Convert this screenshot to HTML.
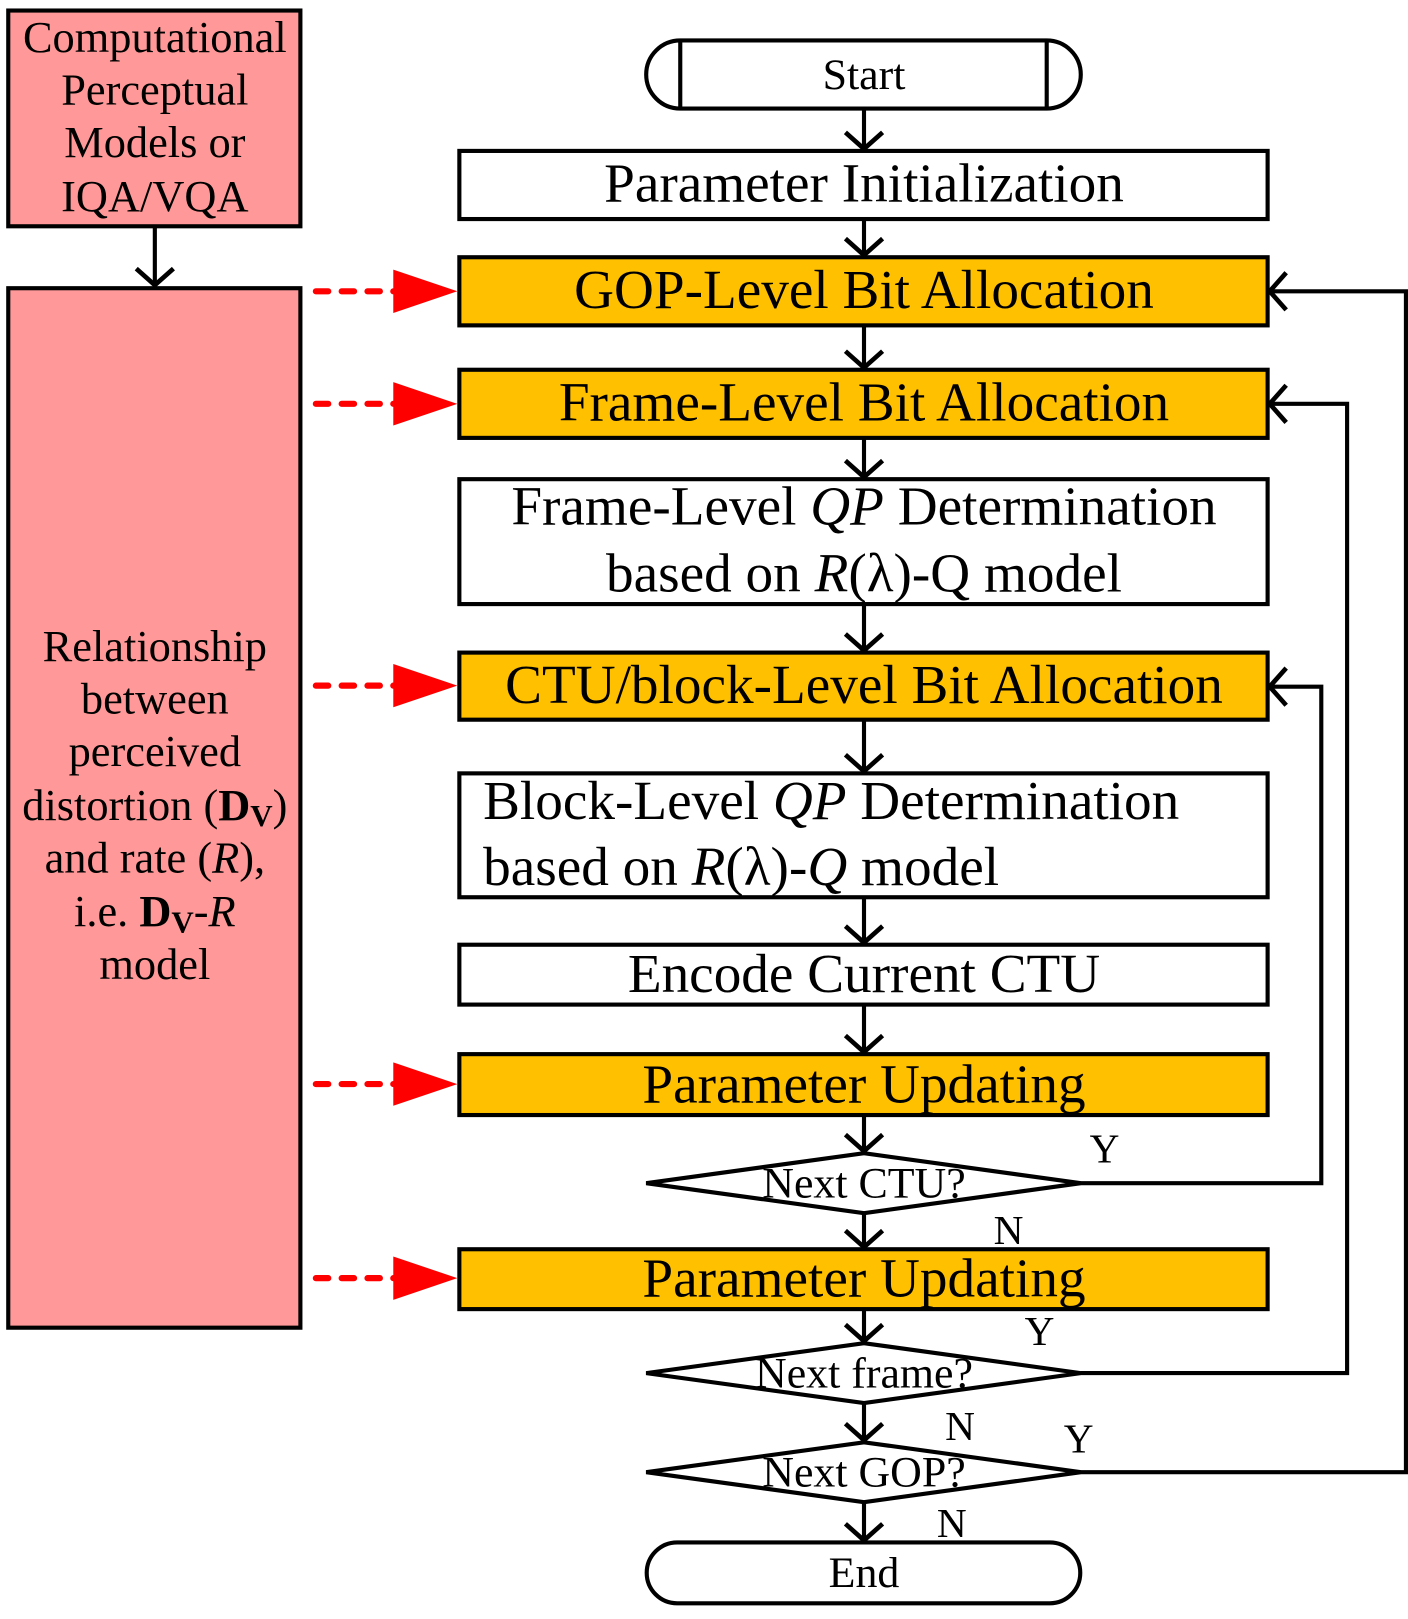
<!DOCTYPE html>
<html><head><meta charset="utf-8"><style>html,body{margin:0;padding:0;background:#fff}svg{display:block}</style></head>
<body>
<svg width="1408" height="1619" viewBox="0 0 1364 1568" xmlns="http://www.w3.org/2000/svg" font-family="'Liberation Serif', serif">
<defs>
<marker id="v" markerWidth="40" markerHeight="40" refX="20" refY="20" orient="auto" markerUnits="userSpaceOnUse" viewBox="0 0 40 40">
<polyline points="4,2 20,20 4,38" fill="none" stroke="#000" stroke-width="4.5"/>
</marker>
</defs>
<g stroke="#000" stroke-width="4">
<rect x="8" y="10" width="283" height="209" fill="#FF9999"/>
<rect x="8" y="279" width="283" height="1007" fill="#FF9999"/>
<path d="M659,39 H1014 A33,33 0 0 1 1014,105 H659 A33,33 0 0 1 659,39 Z" fill="#fff"/>
<line x1="659" y1="39" x2="659" y2="105"/><line x1="1014" y1="39" x2="1014" y2="105"/>
<rect x="445" y="146" width="783" height="66" fill="#fff"/>
<rect x="445" y="249" width="783" height="66" fill="#FFC000"/>
<rect x="445" y="358" width="783" height="66" fill="#FFC000"/>
<rect x="445" y="464" width="783" height="121" fill="#fff"/>
<rect x="445" y="632" width="783" height="65" fill="#FFC000"/>
<rect x="445" y="749" width="783" height="120" fill="#fff"/>
<rect x="445" y="915" width="783" height="58" fill="#fff"/>
<rect x="445" y="1021" width="783" height="59" fill="#FFC000"/>
<rect x="445" y="1210" width="783" height="58" fill="#FFC000"/>
<polygon points="626,1146 837,1117 1047,1146 837,1175" fill="#fff"/>
<polygon points="626,1330 837,1301 1047,1330 837,1359" fill="#fff"/>
<polygon points="626,1426 837,1397 1047,1426 837,1455" fill="#fff"/>
<path d="M656,1494 H1017 A29.5,29.5 0 0 1 1017,1553 H656 A29.5,29.5 0 0 1 656,1494 Z" fill="#fff"/>
<g fill="none" marker-end="url(#v)">
<line x1="150" y1="219" x2="150" y2="276"/>
<line x1="837" y1="105" x2="837" y2="144"/>
<line x1="837" y1="212" x2="837" y2="247"/>
<line x1="837" y1="315" x2="837" y2="356"/>
<line x1="837" y1="424" x2="837" y2="462"/>
<line x1="837" y1="585" x2="837" y2="630"/>
<line x1="837" y1="697" x2="837" y2="747"/>
<line x1="837" y1="869" x2="837" y2="913"/>
<line x1="837" y1="973" x2="837" y2="1019"/>
<line x1="837" y1="1080" x2="837" y2="1115"/>
<line x1="837" y1="1175" x2="837" y2="1208"/>
<line x1="837" y1="1268" x2="837" y2="1299"/>
<line x1="837" y1="1359" x2="837" y2="1395"/>
<line x1="837" y1="1455" x2="837" y2="1492"/>
<polyline points="1047,1146 1280,1146 1280,665 1230,665"/>
<polyline points="1047,1330 1305,1330 1305,391 1230,391"/>
<polyline points="1047,1426 1362,1426 1362,282 1230,282"/>
</g>
</g>
<g stroke="#f00" stroke-width="6" stroke-linecap="round" stroke-dasharray="12,13">
<line x1="306" y1="282" x2="385" y2="282"/>
<line x1="306" y1="391" x2="385" y2="391"/>
<line x1="306" y1="664" x2="385" y2="664"/>
<line x1="306" y1="1050" x2="385" y2="1050"/>
<line x1="306" y1="1238" x2="385" y2="1238"/>
</g>
<g fill="#f00">
<polygon points="381,261 443,282 381,303"/>
<polygon points="381,370 443,391 381,412"/>
<polygon points="381,643 443,664 381,685"/>
<polygon points="381,1029 443,1050 381,1071"/>
<polygon points="381,1217 443,1238 381,1259"/>
</g>
<g font-size="43" text-anchor="middle" fill="#000">
<text x="150" y="50">Computational</text>
<text x="150" y="101">Perceptual</text>
<text x="150" y="152">Models or</text>
<text x="150" y="204">IQA/VQA</text>
<text x="150" y="640">Relationship</text>
<text x="150" y="691">between</text>
<text x="150" y="742">perceived</text>
<text x="150" y="794">distortion (<tspan font-weight="bold">D</tspan><tspan font-weight="bold" font-size="30" dy="6">V</tspan><tspan dy="-6">)</tspan></text>
<text x="150" y="845">and rate (<tspan font-style="italic">R</tspan>),</text>
<text x="150" y="897">i.e. <tspan font-weight="bold">D</tspan><tspan font-weight="bold" font-size="30" dy="6">V</tspan><tspan dy="-6">-</tspan><tspan font-style="italic">R</tspan></text>
<text x="150" y="948">model</text>
</g>
<g font-size="53.5" text-anchor="middle" fill="#000">
<text x="837" y="86" font-size="42.5">Start</text>
<text x="837" y="195">Parameter Initialization</text>
<text x="837" y="298">GOP-Level Bit Allocation</text>
<text x="837" y="407">Frame-Level Bit Allocation</text>
<text x="837" y="508">Frame-Level <tspan font-style="italic">QP</tspan> Determination</text>
<text x="837" y="573">based on <tspan font-style="italic">R</tspan>(λ)-Q model</text>
<text x="837" y="681">CTU/block-Level Bit Allocation</text>
<text x="468" y="793" text-anchor="start">Block-Level <tspan font-style="italic">QP</tspan> Determination</text>
<text x="468" y="857" text-anchor="start">based on <tspan font-style="italic">R</tspan>(λ)-<tspan font-style="italic">Q</tspan> model</text>
<text x="837" y="961">Encode Current CTU</text>
<text x="837" y="1068">Parameter Updating</text>
<text x="837" y="1256">Parameter Updating</text>
<text x="837" y="1160" font-size="42.5">Next CTU?</text>
<text x="837" y="1344" font-size="42.5">Next frame?</text>
<text x="837" y="1440" font-size="42.5">Next GOP?</text>
<text x="837" y="1537" font-size="42.5">End</text>
</g>
<g font-size="40" text-anchor="middle" fill="#000">
<text x="1070" y="1126">Y</text>
<text x="977" y="1205">N</text>
<text x="1007" y="1303">Y</text>
<text x="930" y="1395">N</text>
<text x="1045" y="1407">Y</text>
<text x="922" y="1489">N</text>
</g>
</svg>
</body></html>
